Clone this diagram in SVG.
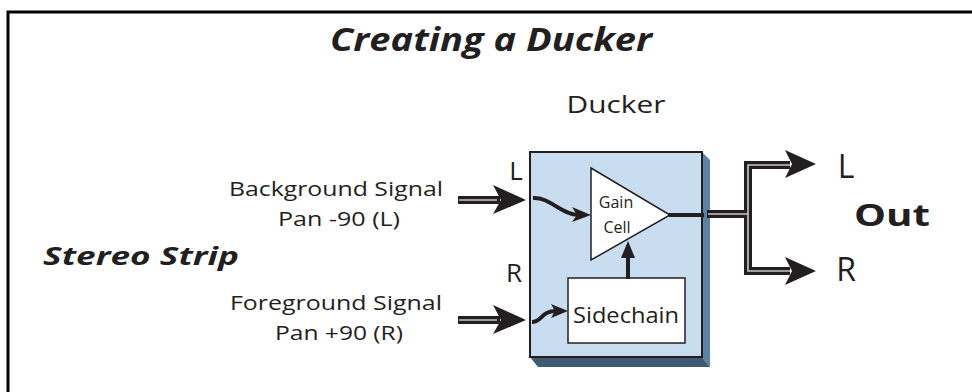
<svg xmlns="http://www.w3.org/2000/svg" width="972" height="392" viewBox="0 0 972 392">
<style>
.t{font-family:"Open Sans","Liberation Sans",sans-serif;fill:#231f20}
.b{font-weight:bold;font-style:italic}
.dbl{fill:none;stroke:#231f20;stroke-width:8}
.dbli{fill:none;stroke:#c8c8c8;stroke-width:1.6}
.thk{fill:none;stroke:#231f20;stroke-width:4}
.ah{fill:#231f20}
</style>
<rect x="8" y="12" width="980" height="400" fill="#fff" stroke="#000" stroke-width="3"/>
<text class="t b" x="491" y="51" font-size="32" text-anchor="middle" textLength="322" lengthAdjust="spacingAndGlyphs">Creating a Ducker</text>
<text class="t b" x="141" y="265" font-size="25" text-anchor="middle" textLength="196" lengthAdjust="spacingAndGlyphs">Stereo Strip</text>
<text class="t" x="336" y="196" font-size="20" text-anchor="middle" textLength="214" lengthAdjust="spacingAndGlyphs">Background Signal</text>
<text class="t" x="339" y="226" font-size="20" text-anchor="middle" textLength="122" lengthAdjust="spacingAndGlyphs">Pan -90 (L)</text>
<text class="t" x="336" y="310" font-size="20" text-anchor="middle" textLength="212" lengthAdjust="spacingAndGlyphs">Foreground Signal</text>
<text class="t" x="339" y="340" font-size="20" text-anchor="middle" textLength="128" lengthAdjust="spacingAndGlyphs">Pan +90 (R)</text>
<g id="ducker">
<text class="t" x="616" y="113" font-size="24" text-anchor="middle" textLength="99" lengthAdjust="spacingAndGlyphs">Ducker</text>
<polygon points="702,152 710,160 710,367 702,357" fill="#5b82a3"/>
<polygon points="530,357 702,357 710,367 538,367" fill="#3f5a73"/>
<rect x="530" y="152" width="172" height="205" fill="#c9ddf1" stroke="#231f20" stroke-width="2"/>
<text class="t" x="516" y="180" font-size="26" text-anchor="middle">L</text>
<text class="t" x="514" y="282" font-size="26" text-anchor="middle">R</text>
</g>
<g id="gaincell">
<polygon points="591,168 670,215 591,260" fill="#fff" stroke="#231f20" stroke-width="1.5"/>
<text class="t" x="616" y="208" font-size="16" text-anchor="middle">Gain</text>
<text class="t" x="617" y="233" font-size="16" text-anchor="middle">Cell</text>
</g>
<g id="sidechain">
<rect x="568" y="278" width="117" height="65" fill="#fff" stroke="#231f20" stroke-width="1.5"/>
<text class="t" x="626" y="323" font-size="22" text-anchor="middle" textLength="106" lengthAdjust="spacingAndGlyphs">Sidechain</text>
</g>
<g id="out">
<text class="t" x="846" y="178" font-size="32" text-anchor="middle">L</text>
<text class="t" x="846" y="281" font-size="32" text-anchor="middle">R</text>
<text class="t" x="892" y="226" font-size="31" font-weight="bold" text-anchor="middle" textLength="76" lengthAdjust="spacingAndGlyphs">Out</text>
</g>
<g id="connectors">
<path class="dbl" d="M458,200 H500 M458,320 H500"/>
<path class="dbli" d="M459,200 H497 M459,320 H497"/>
<polygon class="ah" points="526,200 493,185 501,200 493,214"/>
<polygon class="ah" points="526,320 493,305 501,320 493,334"/>
<path class="thk" d="M533,198 C550,197 560,214 578,215"/>
<polygon class="ah" points="591,215 572,207 577,215 572,222"/>
<path class="thk" d="M532,322 C542,322 541,311 556,311"/>
<polygon class="ah" points="568,311 551,304 555,311 551,318"/>
<path class="thk" d="M628,279 V255" stroke-width="5"/>
<polygon class="ah" points="628,241 621,258 635,258"/>
<path class="thk" d="M669,215 H704" stroke-width="5"/>
<path class="dbl" d="M790,165 H748 V271 H790 M707,214 H748"/>
<path class="dbli" d="M790,165 H748 V271 H790 M708,214 H748"/>
<polygon class="ah" points="816,164 785,150 792,164 785,178"/>
<polygon class="ah" points="816,271 785,257 792,271 785,285"/>
</g>
</svg>
